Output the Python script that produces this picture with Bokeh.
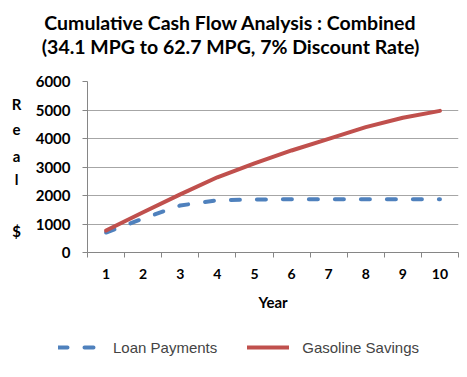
from bokeh.plotting import figure
from bokeh.models import Range1d, FixedTicker, Legend, LegendItem
from bokeh.layouts import column, row
from bokeh.core.properties import value
from bokeh.embed import file_html
from bokeh.resources import INLINE

years = [1, 2, 3, 4, 5, 6, 7, 8, 9, 10]
loan_payments = [700, 1190, 1650, 1830, 1860, 1870, 1870, 1870, 1870, 1870]
gasoline_savings = [770, 1410, 2040, 2640, 3130, 3580, 3990, 4400, 4730, 4970]
y_ticks = [0, 1000, 2000, 3000, 4000, 5000, 6000]
title_lines = ["Cumulative Cash Flow Analysis : Combined",
               "(34.1 MPG to 62.7 MPG, 7% Discount Rate)"]
y_label_letters = ["R", "e", "a", "l", "$"]
series_names = ["Loan Payments", "Gasoline Savings"]

LOAN_STYLE = dict(line_color="#4F81BD", line_width=4, line_dash="9 17", line_cap="round")
GAS_STYLE = dict(line_color="#C0504D", line_width=4, line_cap="round")


def blank_fig(w, h, xr, yr):
    f = figure(frame_width=w, frame_height=h, output_backend="svg",
               toolbar_location=None, x_range=xr, y_range=yr, min_border=0)
    f.axis.visible = False
    f.grid.visible = False
    f.outline_line_color = None
    return f


# title strip (local pixel coordinates, top-down)
title_fig = blank_fig(467, 60, Range1d(0, 467), Range1d(60, 0))
title_fig.text(x=[230, 230], y=[22, 46], text=title_lines,
               text_font=value("Lato"), text_font_style="bold",
               text_font_size="19.5px", text_align="center",
               text_baseline="middle", text_color="black")

# stacked y-axis label (local pixel coordinates, top-down)
label_fig = blank_fig(30, 270, Range1d(0, 30), Range1d(270, 0))
label_fig.text(x=[16] * 5, y=[22, 48, 74, 97, 149], text=y_label_letters,
               text_font=value("Lato"), text_font_style="bold",
               text_font_size="15px", text_align="center",
               text_baseline="middle", text_color="black")

p = figure(width=437, height=270, output_backend="svg", toolbar_location=None,
           x_range=Range1d(0.5, 10.5), y_range=Range1d(0, 6000),
           min_border_left=57, min_border_right=9, min_border_top=21,
           min_border_bottom=78)
p.outline_line_color = None

p.xaxis.ticker = FixedTicker(ticks=years, minor_ticks=[y - 0.5 for y in years] + [10.5])
p.xaxis.major_tick_line_color = None
p.xaxis.minor_tick_line_color = "#868686"
p.xaxis.minor_tick_out = 5
p.xaxis.minor_tick_in = 0
p.xaxis.axis_line_color = "#868686"
p.xaxis.major_label_text_font = "Lato"
p.xaxis.major_label_text_font_style = "bold"
p.xaxis.major_label_text_font_size = "14px"
p.xaxis.major_label_text_color = "black"
p.xaxis.major_label_standoff = 10
p.xaxis.axis_label = "Year"
p.xaxis.axis_label_text_font = "Lato"
p.xaxis.axis_label_text_font_style = "bold"
p.xaxis.axis_label_text_font_size = "15px"
p.xaxis.axis_label_text_color = "black"
p.xaxis.axis_label_standoff = 11

p.yaxis.ticker = FixedTicker(ticks=y_ticks)
p.yaxis.minor_tick_line_color = None
p.yaxis.major_tick_line_color = "#868686"
p.yaxis.major_tick_out = 5
p.yaxis.major_tick_in = 0
p.yaxis.axis_line_color = "#868686"
p.yaxis.major_label_text_font = "Lato"
p.yaxis.major_label_text_font_style = "bold"
p.yaxis.major_label_text_font_size = "15px"
p.yaxis.major_label_text_color = "black"
p.yaxis.major_label_standoff = 12

p.xgrid.grid_line_color = None
p.ygrid.grid_line_color = "#a6a6a6"

p.line(years, loan_payments, **LOAN_STYLE)
p.line(years, gasoline_savings, **GAS_STYLE)

# legend strip: swatch renderers use the same series, kept outside the strip's view
legend_fig = blank_fig(467, 47, Range1d(-2, -1), Range1d(-2, -1))
sw_loan = legend_fig.line(years, loan_payments, **LOAN_STYLE)
sw_gas = legend_fig.line(years, gasoline_savings, **GAS_STYLE)
legend = Legend(items=[LegendItem(label=series_names[0], renderers=[sw_loan]),
                       LegendItem(label=series_names[1], renderers=[sw_gas])],
                orientation="horizontal", location=(58, 20),
                border_line_color=None, background_fill_alpha=0,
                padding=0, margin=0, spacing=30, glyph_width=42,
                label_standoff=13, label_text_font="Liberation Sans",
                label_text_font_size="15px", label_text_baseline="middle")
legend_fig.add_layout(legend, "center")

layout = column(title_fig, row(label_fig, p, spacing=0), legend_fig, spacing=0)
open("out.html", "w").write(file_html(layout, INLINE))
